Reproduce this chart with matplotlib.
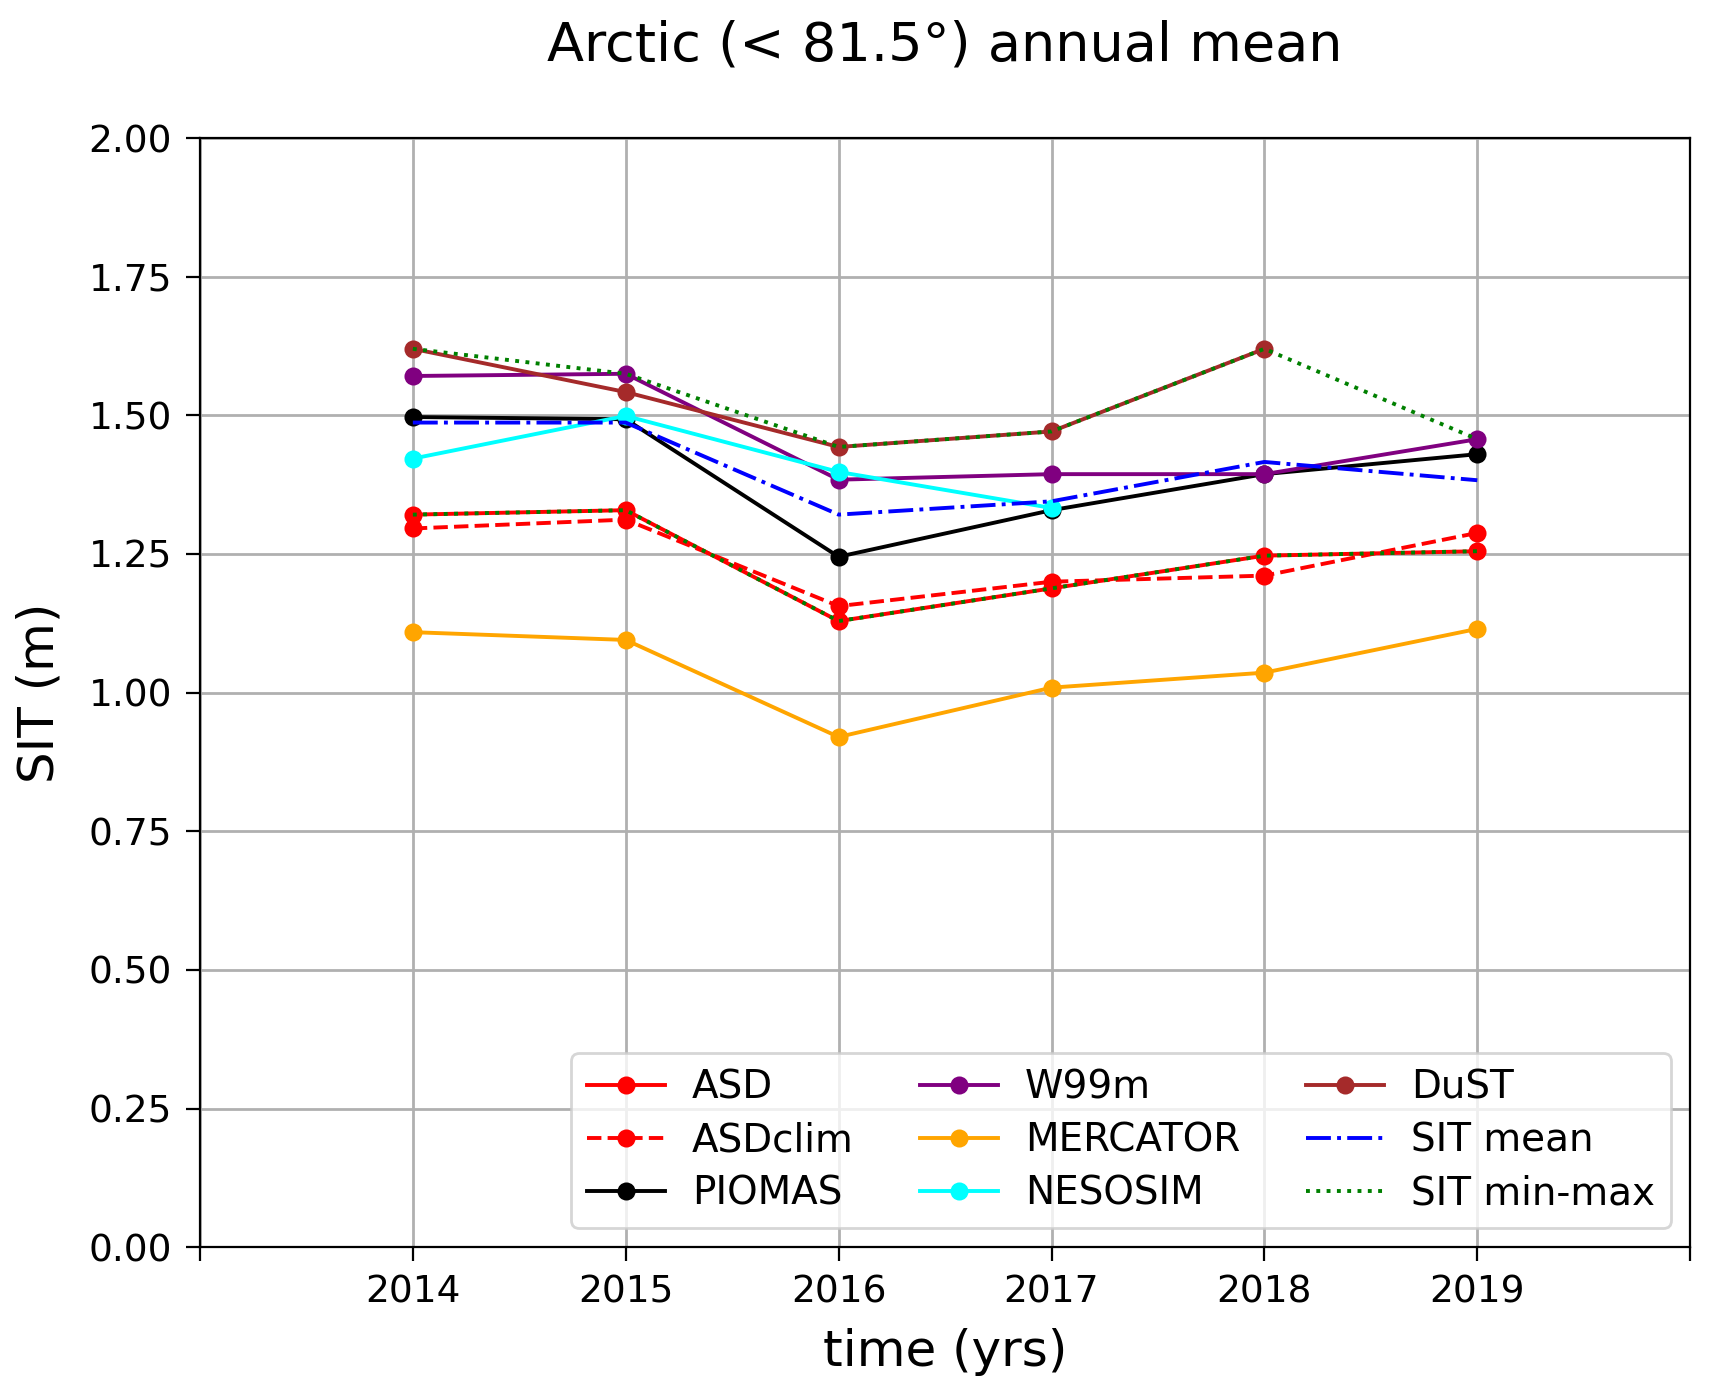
import numpy as np
from matplotlib import pyplot as plt

years = [2014, 2015, 2016, 2017, 2018, 2019]

asd = [1.321, 1.329, 1.129, 1.188, 1.247, 1.255]
asd_clim = [1.296, 1.312, 1.156, 1.200, 1.211, 1.288]
piomas = [1.497, 1.493, 1.245, 1.329, 1.394, 1.430]
w99m = [1.571, 1.575, 1.384, 1.394, 1.394, 1.457]
mercator = [1.109, 1.095, 0.920, 1.009, 1.036, 1.115]
nesosim = [1.422, 1.499, 1.398, 1.333, np.nan, np.nan]
dust = [1.620, 1.542, 1.443, 1.471, 1.620, np.nan]
sit_mean = [1.487, 1.487, 1.321, 1.345, 1.416, 1.383]
sit_min = [1.321, 1.329, 1.129, 1.188, 1.247, 1.255]
sit_max = [1.620, 1.575, 1.443, 1.471, 1.620, 1.457]

xtick_labels = ['', '2014', '2015', '2016', '2017', '2018', '2019', '']

fig = plt.figure(figsize=(1709/200, 1395/200), dpi=200)
ax = fig.add_axes([0.117, 0.106, 0.872, 0.795])

ms = 5.5
lw = 1.4
ax.plot(years, asd, '-', color='red', marker='o', ms=ms, lw=lw, label='ASD')
ax.plot(years, asd_clim, '--', color='red', marker='o', ms=ms, lw=lw, label='ASDclim')
ax.plot(years, piomas, '-', color='black', marker='o', ms=ms, lw=lw, label='PIOMAS')
ax.plot(years, w99m, '-', color='purple', marker='o', ms=ms, lw=lw, label='W99m')
ax.plot(years, mercator, '-', color='orange', marker='o', ms=ms, lw=lw, label='MERCATOR')
ax.plot(years, nesosim, '-', color='cyan', marker='o', ms=ms, lw=lw, label='NESOSIM')
ax.plot(years, dust, '-', color='brown', marker='o', ms=ms, lw=lw, label='DuST')
ax.plot(years, sit_mean, '-.', color='blue', lw=lw, label='SIT mean')
ax.plot(years, sit_min, ':', color='green', lw=lw, label='SIT min-max')
ax.plot(years, sit_max, ':', color='green', lw=lw)

ax.set_xlim(2013, 2020)
ax.set_ylim(0, 2.0)
ax.set_xticks(range(2013, 2021))
ax.set_xticklabels(xtick_labels)
ax.set_yticks(np.arange(0, 2.01, 0.25))
ax.tick_params(labelsize=13.5, length=5, pad=5)
ax.grid(True, color='#b0b0b0', lw=1.0)

ax.set_xlabel('time (yrs)', fontsize=18, labelpad=6)
ax.set_ylabel('SIT (m)', fontsize=18, labelpad=9)
ax.set_title('Arctic (< 81.5°) annual mean', fontsize=19.5, pad=28)
ax.legend(ncol=3, loc='lower right', fontsize=14, handlelength=2.0,
          handletextpad=0.7, columnspacing=1.7, labelspacing=0.38)

fig.savefig('out.png', dpi=200)
